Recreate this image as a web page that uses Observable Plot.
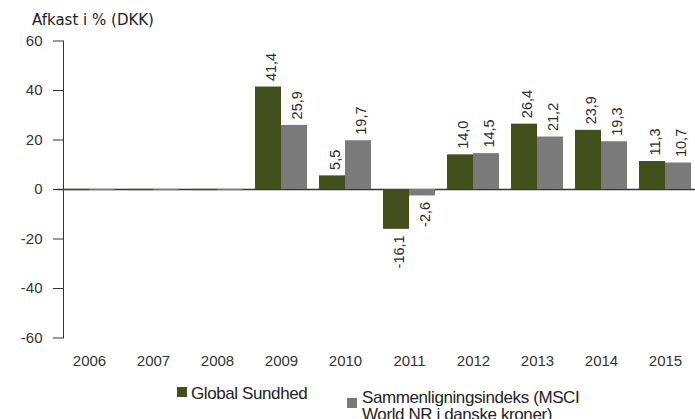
<!DOCTYPE html>
<html>
<head>
<meta charset="utf-8">
<script src="https://cdn.jsdelivr.net/npm/d3@7"></script>
<script src="https://cdn.jsdelivr.net/npm/@observablehq/plot@0.6"></script>
<style>
  html, body { margin: 0; padding: 0; background: #fff; }
  #wrap { position: relative; width: 695px; height: 419px; overflow: hidden; }
  #title { position: absolute; left: 32px; top: 13px; font: 15px/15px "DejaVu Sans", sans-serif; color: #222; white-space: nowrap; }
  .leg { position: absolute; font: 17px/17px "Liberation Sans", Arial, sans-serif; letter-spacing: -0.4px; color: #222; white-space: nowrap; }
  .sw { position: absolute; width: 10px; height: 10px; }
  #chart { position: absolute; left: 0; top: 0; }
</style>
</head>
<body>
<div id="wrap">
  <div id="chart"></div>
  <div id="title">Afkast i % (DKK)</div>
  <div class="sw" id="sw0" style="left:177px; top:387px;"></div>
  <div class="leg" id="lg0" style="left:191px; top:385px;"></div>
  <div class="sw" id="sw1" style="left:347px; top:398px;"></div>
  <div class="leg" id="lg1" style="left:362px; top:389px;"></div>
</div>
<script>
const years = ["2006", "2007", "2008", "2009", "2010", "2011", "2012", "2013", "2014", "2015"];
const fundValues = [0, 0, 0, 41.4, 5.5, -16.1, 14.0, 26.4, 23.9, 11.3];
const indexValues = [0, 0, 0, 25.9, 19.7, -2.6, 14.5, 21.2, 19.3, 10.7];
const seriesNames = ["Global Sundhed", "Sammenligningsindeks (MSCI World NR i danske kroner)"];
const legendLines = [["Global Sundhed"], ["Sammenligningsindeks (MSCI", "World NR i danske kroner)"]];
const seriesColors = ["#434f1a", "#7a7a7a"];
const yTicks = [-60, -40, -20, 0, 20, 40, 60];

const rows = [];
years.forEach((yr, i) => {
  rows.push({year: yr, series: seriesNames[0], value: fundValues[i]});
  rows.push({year: yr, series: seriesNames[1], value: indexValues[i]});
});
const fmt = v => d3.format(".1f")(v).replace(".", ",").replace("−", "-");
const pos = rows.filter(d => d.value > 0);
const neg = rows.filter(d => d.value < 0);
const zeros = rows.filter(d => d.value === 0);
const baseline = years.map(yr => ({year: yr, value: 0}));

const chart = Plot.plot({
  width: 695,
  height: 372,
  marginTop: 40.5,
  marginBottom: 34.5,
  marginLeft: 59,
  marginRight: 0,
  style: {fontFamily: "'Liberation Sans', Arial, sans-serif", fontSize: "15px", color: "#333", background: "transparent"},
  fx: {domain: years, paddingInner: 0.18, paddingOuter: 0, axis: "bottom", label: null, tickSize: 0, tickPadding: 17.5},
  x: {domain: seriesNames, padding: 0, axis: null},
  y: {domain: [-60, 60], ticks: yTicks, tickFormat: d => String(d), tickSize: 10, tickPadding: 11, line: true, label: null},
  color: {domain: seriesNames, range: seriesColors},
  marks: [
    Plot.ruleY(baseline, {fx: "year", y: "value", stroke: "#333", strokeWidth: 1.3, insetLeft: -6, insetRight: -6}),
    Plot.barY(rows, {fx: "year", x: "series", y: "value", fill: "series"}),
    Plot.tickY(zeros, {fx: "year", x: "series", y: "value", stroke: "series", strokeWidth: 1.3}),
    Plot.text(pos, {fx: "year", x: "series", y: "value", text: d => fmt(d.value), rotate: -90, textAnchor: "start", dy: -6, dx: 2.5, fill: "#2b2b2b", fontSize: 14.5}),
    Plot.text(neg, {fx: "year", x: "series", y: "value", text: d => fmt(d.value), rotate: -90, textAnchor: "end", dy: 6, dx: 2.5, fill: "#2b2b2b", fontSize: 14.5})
  ]
});
document.getElementById("chart").appendChild(chart);

seriesColors.forEach((c, i) => { document.getElementById("sw" + i).style.background = c; });
legendLines.forEach((lines, i) => { document.getElementById("lg" + i).innerHTML = lines.join("<br>"); });
</script>
</body>
</html>
